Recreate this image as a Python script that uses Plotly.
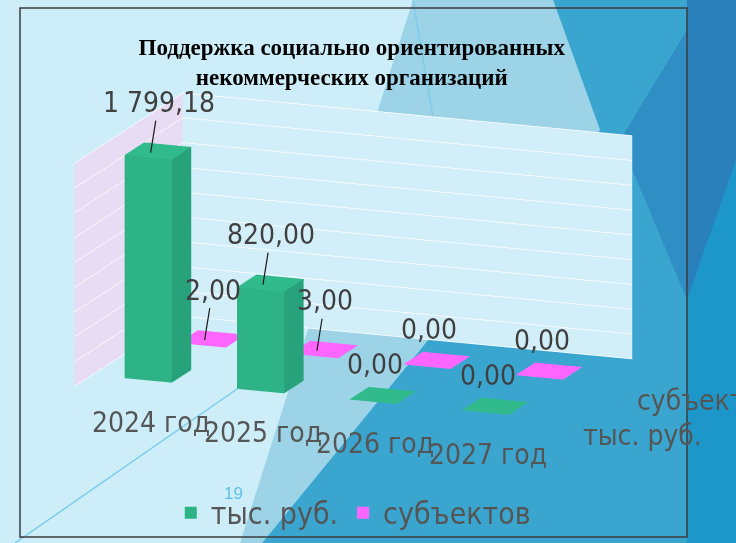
import plotly.graph_objects as go

categories = ["2024 год", "2025 год", "2026 год", "2027 год"]
series_names = ["тыс. руб.", "субъектов"]
rub_values = [1799.18, 820.00, 0.00, 0.00]
subj_values = [2.00, 3.00, 0.00, 0.00]
rub_labels = ["1 799,18", "820,00", "0,00", "0,00"]
subj_labels = ["2,00", "3,00", "0,00", "0,00"]

GREEN = "#2db386"
GREEN_SIDE = "#28a27a"
GREEN_TOP = "#31bb8c"
PINK = "#ff66ff"
PINK_SIDE = "#ee55ee"
LABEL_FONT = "Liberation Sans Narrow, DejaVu Sans Condensed, Arial Narrow, sans-serif"
TEXT_GRAY = "#555555"
ZMAX = 1800

W = 0.42   # bar width (category units)
D = 0.36   # bar depth (series units)


def box(xc, yc, h, base, side, top):
    x0, x1 = xc - W / 2, xc + W / 2
    y0, y1 = yc - D / 2, yc + D / 2
    xs = [x0, x1, x1, x0, x0, x1, x1, x0]
    ys = [y0, y0, y1, y1, y0, y0, y1, y1]
    zs = [0, 0, 0, 0, h, h, h, h]
    tri = [
        (0, 1, 2), (0, 2, 3),
        (4, 5, 6), (4, 6, 7),
        (0, 1, 5), (0, 5, 4),
        (3, 2, 6), (3, 6, 7),
        (0, 3, 7), (0, 7, 4),
        (1, 2, 6), (1, 6, 5),
    ]
    cols = [base, base, top, top, base, base, base, base, base, base, side, side]
    i, j, k = zip(*tri)
    return go.Mesh3d(x=xs, y=ys, z=zs, i=i, j=j, k=k, facecolor=cols,
                     flatshading=True, showlegend=False, hoverinfo="skip",
                     lighting=dict(ambient=1, diffuse=0, specular=0, fresnel=0, roughness=1))


fig = go.Figure()

for idx, v in enumerate(rub_values):
    fig.add_trace(box(idx, 0, v, GREEN, GREEN_SIDE, GREEN_TOP))
for idx, v in enumerate(subj_values):
    fig.add_trace(box(idx, 1, v, PINK, PINK_SIDE, PINK))

for name, col in zip(series_names, [GREEN, PINK]):
    fig.add_trace(go.Scatter3d(x=[None], y=[None], z=[None], mode="markers", name=name,
                               marker=dict(symbol="square", size=24, color=col)))

annots = []
lead = [True, True, False, False]
for row, (vals, labs) in enumerate([(rub_values, rub_labels), (subj_values, subj_labels)]):
    for idx, (v, lab) in enumerate(zip(vals, labs)):
        common = dict(x=idx - 0.04, y=row - 0.05, z=v, text=lab,
                      font=dict(family=LABEL_FONT, size=28, color="#404040"))
        if lead[idx]:
            annots.append(dict(**common, showarrow=True, arrowhead=0, arrowwidth=1.2,
                               arrowcolor="#1a1a1a", ax=8, ay=-50, standoff=0))
        else:
            annots.append(dict(**common, showarrow=False, yshift=32))
for idx, cat in enumerate(categories):
    annots.append(dict(x=idx, y=-0.5, z=0, text=cat, showarrow=False, yanchor="top",
                       xshift=20, yshift=-12,
                       font=dict(family=LABEL_FONT, size=28, color=TEXT_GRAY)))
for row, name in enumerate(series_names):
    annots.append(dict(x=3.5, y=row, z=0, text=name, showarrow=False, xanchor="left",
                       xshift=30, yshift=-24,
                       font=dict(family=LABEL_FONT, size=28, color=TEXT_GRAY)))


def P(pts):
    s = " L ".join(f"{x / 736:.4f} {1 - y / 543:.4f}" for x, y in pts)
    return "M " + s + " Z"


deco = [
    ([(413, 0), (553, 0), (600, 130), (262, 543), (240, 543)], "#9dd3e6"),
    ([(553, 0), (690, 0), (690, 543), (262, 543), (600, 130)], "#3aa6d0"),
    ([(620, 140), (687, 30), (687, 300)], "#2f8ec4"),
    ([(687, 0), (736, 0), (736, 543), (687, 543)], "#2a80ba"),
    ([(736, 160), (736, 543), (687, 543), (687, 300)], "#1d97c9"),
]
for pts, col in deco:
    fig.add_shape(type="path", path=P(pts), xref="paper", yref="paper",
                  fillcolor=col, line=dict(width=0), layer="below")
fig.add_shape(type="line", x0=413 / 736, y0=1, x1=433 / 736, y1=1 - 117 / 543,
              xref="paper", yref="paper", line=dict(color="#7ccbea", width=1.5), layer="below")
fig.add_shape(type="line", x0=15 / 736, y0=0, x1=250 / 736, y1=1 - 380 / 543,
              xref="paper", yref="paper", line=dict(color="#7ccbea", width=1.5), layer="below")
fig.add_shape(type="rect", x0=20 / 736, y0=1 - 537 / 543, x1=687 / 736, y1=1 - 8 / 543,
              xref="paper", yref="paper", line=dict(color="#3c3c3c", width=1.5),
              fillcolor="rgba(0,0,0,0)", layer="below")

fig.add_annotation(text="19", x=222 / 736, y=1 - 505 / 543, xref="paper", yref="paper",
                   showarrow=False, font=dict(family="Liberation Sans", size=17, color="#5fc0e8"))

fig.update_layout(
    width=736, height=543,
    margin=dict(l=0, r=0, t=0, b=0),
    paper_bgcolor="#cdeef9",
    title=dict(text="<b>Поддержка социально ориентированных<br>некоммерческих организаций</b>",
               x=0.478, xanchor="center", y=0.898, yanchor="top",
               font=dict(family="Liberation Serif", size=23, color="black")),
    showlegend=True,
    legend=dict(orientation="h", x=0.48, xanchor="center", y=0.008, yanchor="bottom",
                font=dict(family=LABEL_FONT, size=30, color=TEXT_GRAY),
                bgcolor="rgba(0,0,0,0)", itemsizing="constant"),
    scene=dict(
        domain=dict(x=[0, 0.96], y=[0.048, 0.99]),
        xaxis=dict(range=[-0.5, 3.5], showticklabels=False, title="", showgrid=False,
                   showbackground=True, backgroundcolor="#e8dcf4", zeroline=False,
                   showspikes=False),
        yaxis=dict(range=[-0.5, 1.5], showticklabels=False, title="", showgrid=False,
                   showbackground=True, backgroundcolor="#d2eef9", zeroline=False,
                   showspikes=False),
        zaxis=dict(range=[0, ZMAX], dtick=200, showticklabels=False, title="", showgrid=True,
                   gridcolor="white", gridwidth=1.5, showbackground=False, zeroline=False,
                   showspikes=False),
        aspectmode="manual", aspectratio=dict(x=1.88, y=1.18, z=0.90),
        camera=dict(eye=dict(x=0.88, y=-2.30, z=0.632), center=dict(x=0, y=0, z=0),
                    up=dict(x=0, y=0, z=1), projection=dict(type="orthographic")),
        bgcolor="rgba(0,0,0,0)",
        annotations=annots,
    ),
)

fig.write_html("out.html", post_script="document.body.style.margin='0';",
               config={"displayModeBar": False})
